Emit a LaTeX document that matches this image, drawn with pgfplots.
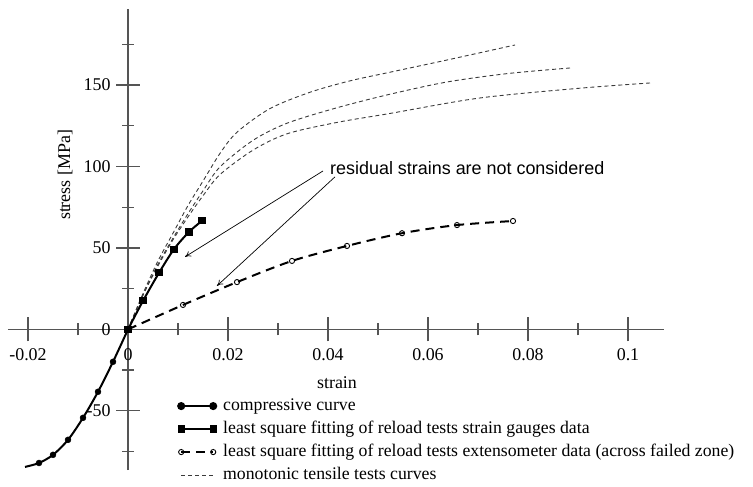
\documentclass[border=0pt]{standalone}
\usepackage{pgfplots}
\pgfplotsset{compat=1.18}
\usepackage{fontspec}
\setmainfont{Liberation Serif}
\newfontfamily\annfont{Liberation Sans}
\usetikzlibrary{calc,arrows.meta}
\definecolor{axgray}{HTML}{555555}
\definecolor{dashgray}{HTML}{3A3A3A}
\begin{document}
\begin{tikzpicture}
\begin{axis}[name=ax,
  scale only axis, width=656bp, height=461bp,
  xmin=-0.024, xmax=0.1072, ymin=-86.3, ymax=196.6,
  axis lines=middle, axis line style={-, axgray, line width=1.3bp},
  clip=false,
  hide obscured x ticks=false, hide obscured y ticks=false,
  xtick={-0.02,0,0.02,0.04,0.06,0.08,0.1},
  xticklabels={-0.02,0,0.02,0.04,0.06,0.08,0.1},
  minor xtick={-0.01,0.01,0.03,0.05,0.07,0.09},
  ytick={-50,0,50,100,150},
  yticklabels={-50,0,50,100,150},
  minor ytick={-75,-25,25,75,125,175},
  tick align=center,
  major tick length=24bp, minor tick length=12bp,
  every tick/.style={axgray, line width=1.3bp},
  font=\fontsize{18}{21}\selectfont,
  xticklabel style={font=\fontsize{18}{21}\selectfont, yshift=-4bp},
  yticklabel style={font=\fontsize{18}{21}\selectfont, xshift=-2bp},
  legend style={at={(axis cs:0.0098,-40.5)}, anchor=north west, draw=none, fill=none,
    font=\fontsize{17.8}{21}\selectfont, row sep=4bp, inner sep=1bp,
    nodes={text height=13bp, text depth=4bp, inner sep=1bp},
    /tikz/every odd column/.append style={column sep=6bp}},
  legend cell align=left,
  legend image code/.code={\draw[#1] plot coordinates {(0bp,0bp) (32bp,0bp)};},
]
% monotonic tensile curves
\addplot[dashgray, line width=0.9bp, dash pattern=on 4bp off 3bp, smooth, forget plot] coordinates {
(0,0)(0.003,22)(0.006,42)(0.009,59)(0.012,76)(0.015,91)(0.0184,108)(0.0218,121)(0.0284,135.5)(0.0364,145.5)(0.0444,152.5)(0.0524,157.8)(0.0638,165.3)(0.0774,174.5)};
\addplot[dashgray, line width=0.9bp, dash pattern=on 4bp off 3bp, smooth, forget plot] coordinates {
(0,0)(0.003,21)(0.006,40)(0.009,56)(0.012,71)(0.015,85)(0.0184,99.7)(0.025,116)(0.0318,126.5)(0.0418,136)(0.0524,144.3)(0.0638,151.8)(0.0760,157)(0.0884,160.4)};
\addplot[dashgray, line width=0.9bp, dash pattern=on 4bp off 3bp, smooth, forget plot] coordinates {
(0,0)(0.003,21)(0.006,39)(0.009,55)(0.012,69)(0.015,82)(0.0184,95)(0.025,110)(0.0318,120)(0.0418,127)(0.0524,132.5)(0.0704,142)(0.0904,148)(0.1044,151.2)};
% compressive curve
\addplot[black, line width=2bp, smooth, no marks, forget plot] coordinates {
(0,0)(-0.003,-19.9)(-0.006,-38.3)(-0.009,-54.3)(-0.012,-67.8)(-0.015,-77)(-0.0178,-82)(-0.0206,-84.4)};
\addplot[only marks, mark=*, mark size=3bp, black, forget plot] coordinates {
(0,0)(-0.003,-19.9)(-0.006,-38.3)(-0.009,-54.3)(-0.012,-67.8)(-0.015,-77)(-0.0178,-82)};
% strain gauges fit
\addplot[black, line width=2bp, smooth, mark=square*, mark size=2.6bp, mark options={solid}, forget plot] coordinates {
(0,0)(0.003,17.5)(0.0062,34.7)(0.0092,49.2)(0.0122,59.8)(0.0148,66.6)};
% extensometer fit
\addplot[black, line width=2bp, smooth, dash pattern=on 9bp off 6bp, mark=o, mark size=2.6bp, mark options={solid, fill=white, line width=0.9bp}, forget plot] coordinates {
(0,0)(0.011,15)(0.0218,29)(0.0328,42)(0.0438,51.2)(0.0548,59)(0.0658,64)(0.077,66.5)};
% legend
\addlegendimage{black, line width=2bp, mark=*, mark size=3bp}
\addlegendentry{compressive curve}
\addlegendimage{black, line width=2bp, mark=square*, mark size=2.6bp}
\addlegendentry{least square fitting of reload tests strain gauges data}
\addlegendimage{black, line width=2bp, dash pattern=on 9bp off 6bp, mark=o, mark size=2.6bp, mark options={solid, fill=white, line width=0.9bp}}
\addlegendentry{least square fitting of reload tests extensometer data (across failed zone)}
\addlegendimage{dashgray, line width=0.9bp, dash pattern=on 4bp off 3bp}
\addlegendentry{monotonic tensile tests curves}
% labels
\node[font=\fontsize{18}{21}\selectfont] at (axis cs:0.0418,-32.8) {strain};
\node[font=\fontsize{18}{21}\selectfont, rotate=90] at (axis cs:-0.0126,94.8) {stress [MPa]};
% annotation
\node[anchor=base west, inner sep=0pt, font=\annfont\fontsize{18}{21}\selectfont] at (axis cs:0.0404,94.8) {residual strains are not considered};
\draw[-{To[length=6bp,width=6bp]}, line width=0.7bp, black] (axis cs:0.039,97.2) -- (axis cs:0.0114,44.5);
\draw[-{To[length=6bp,width=6bp]}, line width=0.7bp, black] (axis cs:0.0414,93.6) -- (axis cs:0.0178,26.7);
\end{axis}
\pgfresetboundingbox
\path ($(ax.south west)+(-8bp,-17bp)$) rectangle ($(ax.north east)+(89bp,9bp)$);
\end{tikzpicture}
\end{document}
